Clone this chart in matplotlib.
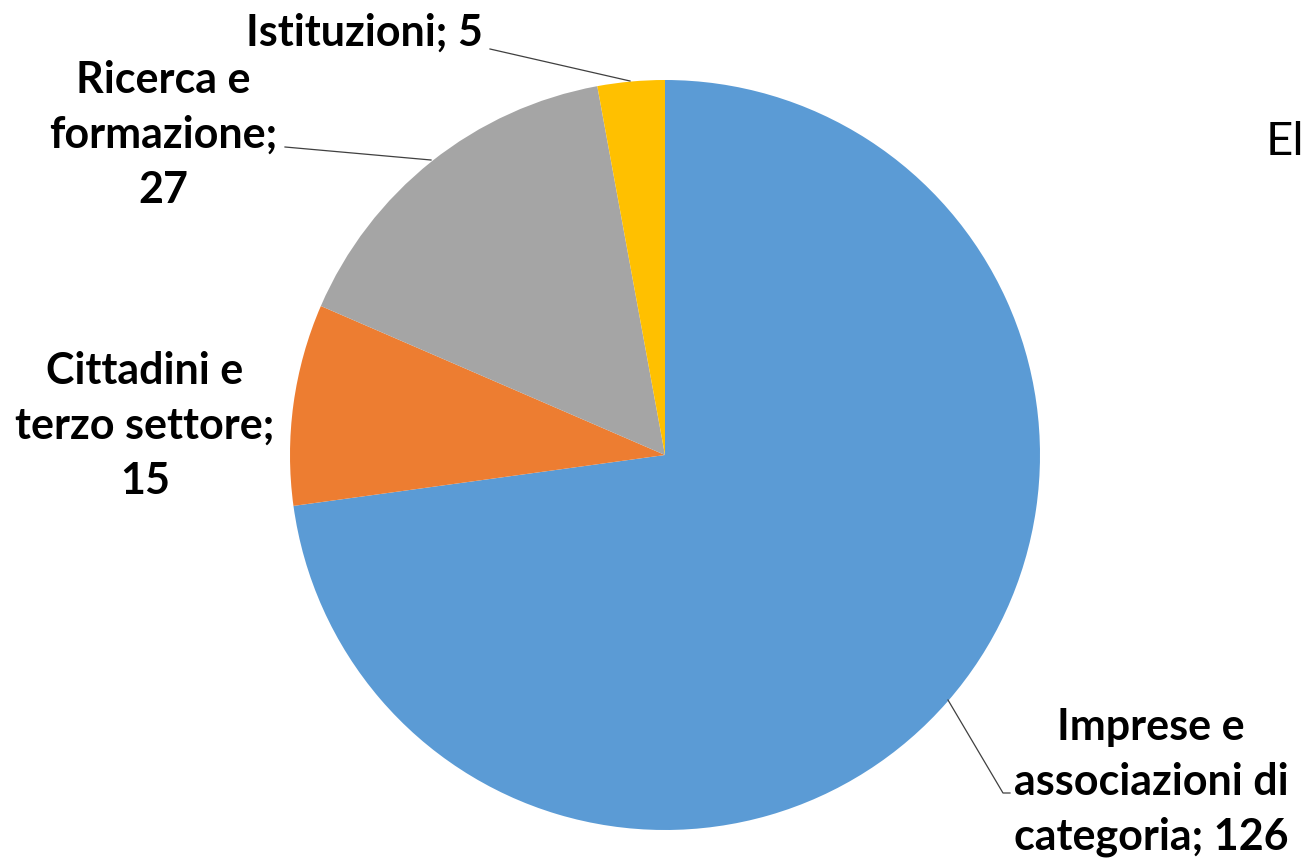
import matplotlib.pyplot as plt

# data
categories = ['Imprese e\nassociazioni di\ncategoria; 126', 'Cittadini e\nterzo settore;\n15',
              'Ricerca e\nformazione;\n27', 'Istituzioni; 5']
values = [126, 15, 27, 5]
colors = ['#5B9BD5', '#ED7D31', '#A5A5A5', '#FFC000']

W, H = 1301, 858
fig = plt.figure(figsize=(W / 100, H / 100), dpi=100)
ax = fig.add_axes([0, 0, 1, 1])
ax.set_xlim(0, W)
ax.set_ylim(0, H)
ax.set_aspect('equal')
ax.axis('off')

cx, cy, r = 665, H - 455, 375
ax.pie(values, colors=colors, startangle=90, counterclock=False,
       center=(cx, cy), radius=r, wedgeprops=dict(linewidth=0))
ax.set_xlim(0, W)
ax.set_ylim(0, H)

font = dict(family='Lato', weight='bold', size=31, ha='center', va='center',
            linespacing=1.45, color='black')

# label positions (pixels from top)
ax.text(1151, H - 782, categories[0], **font)
ax.text(145, H - 426, categories[1], **font)
ax.text(163, H - 135, categories[2], **font)
ax.text(364, H - 33, categories[3], **font)

# leader lines
lc = dict(color='#404040', lw=0.9)
ax.plot([948, 1003, 1010], [H - 700, H - 793, H - 793], **lc)
ax.plot([285, 431], [H - 147, H - 160], **lc)
ax.plot([490, 630], [H - 49, H - 81], **lc)

# text cut off at the right edge, as in the original
ax.text(1266, H - 155, 'El', family='Lato', size=34, ha='left', va='baseline')

fig.savefig('out.png', dpi=100)
